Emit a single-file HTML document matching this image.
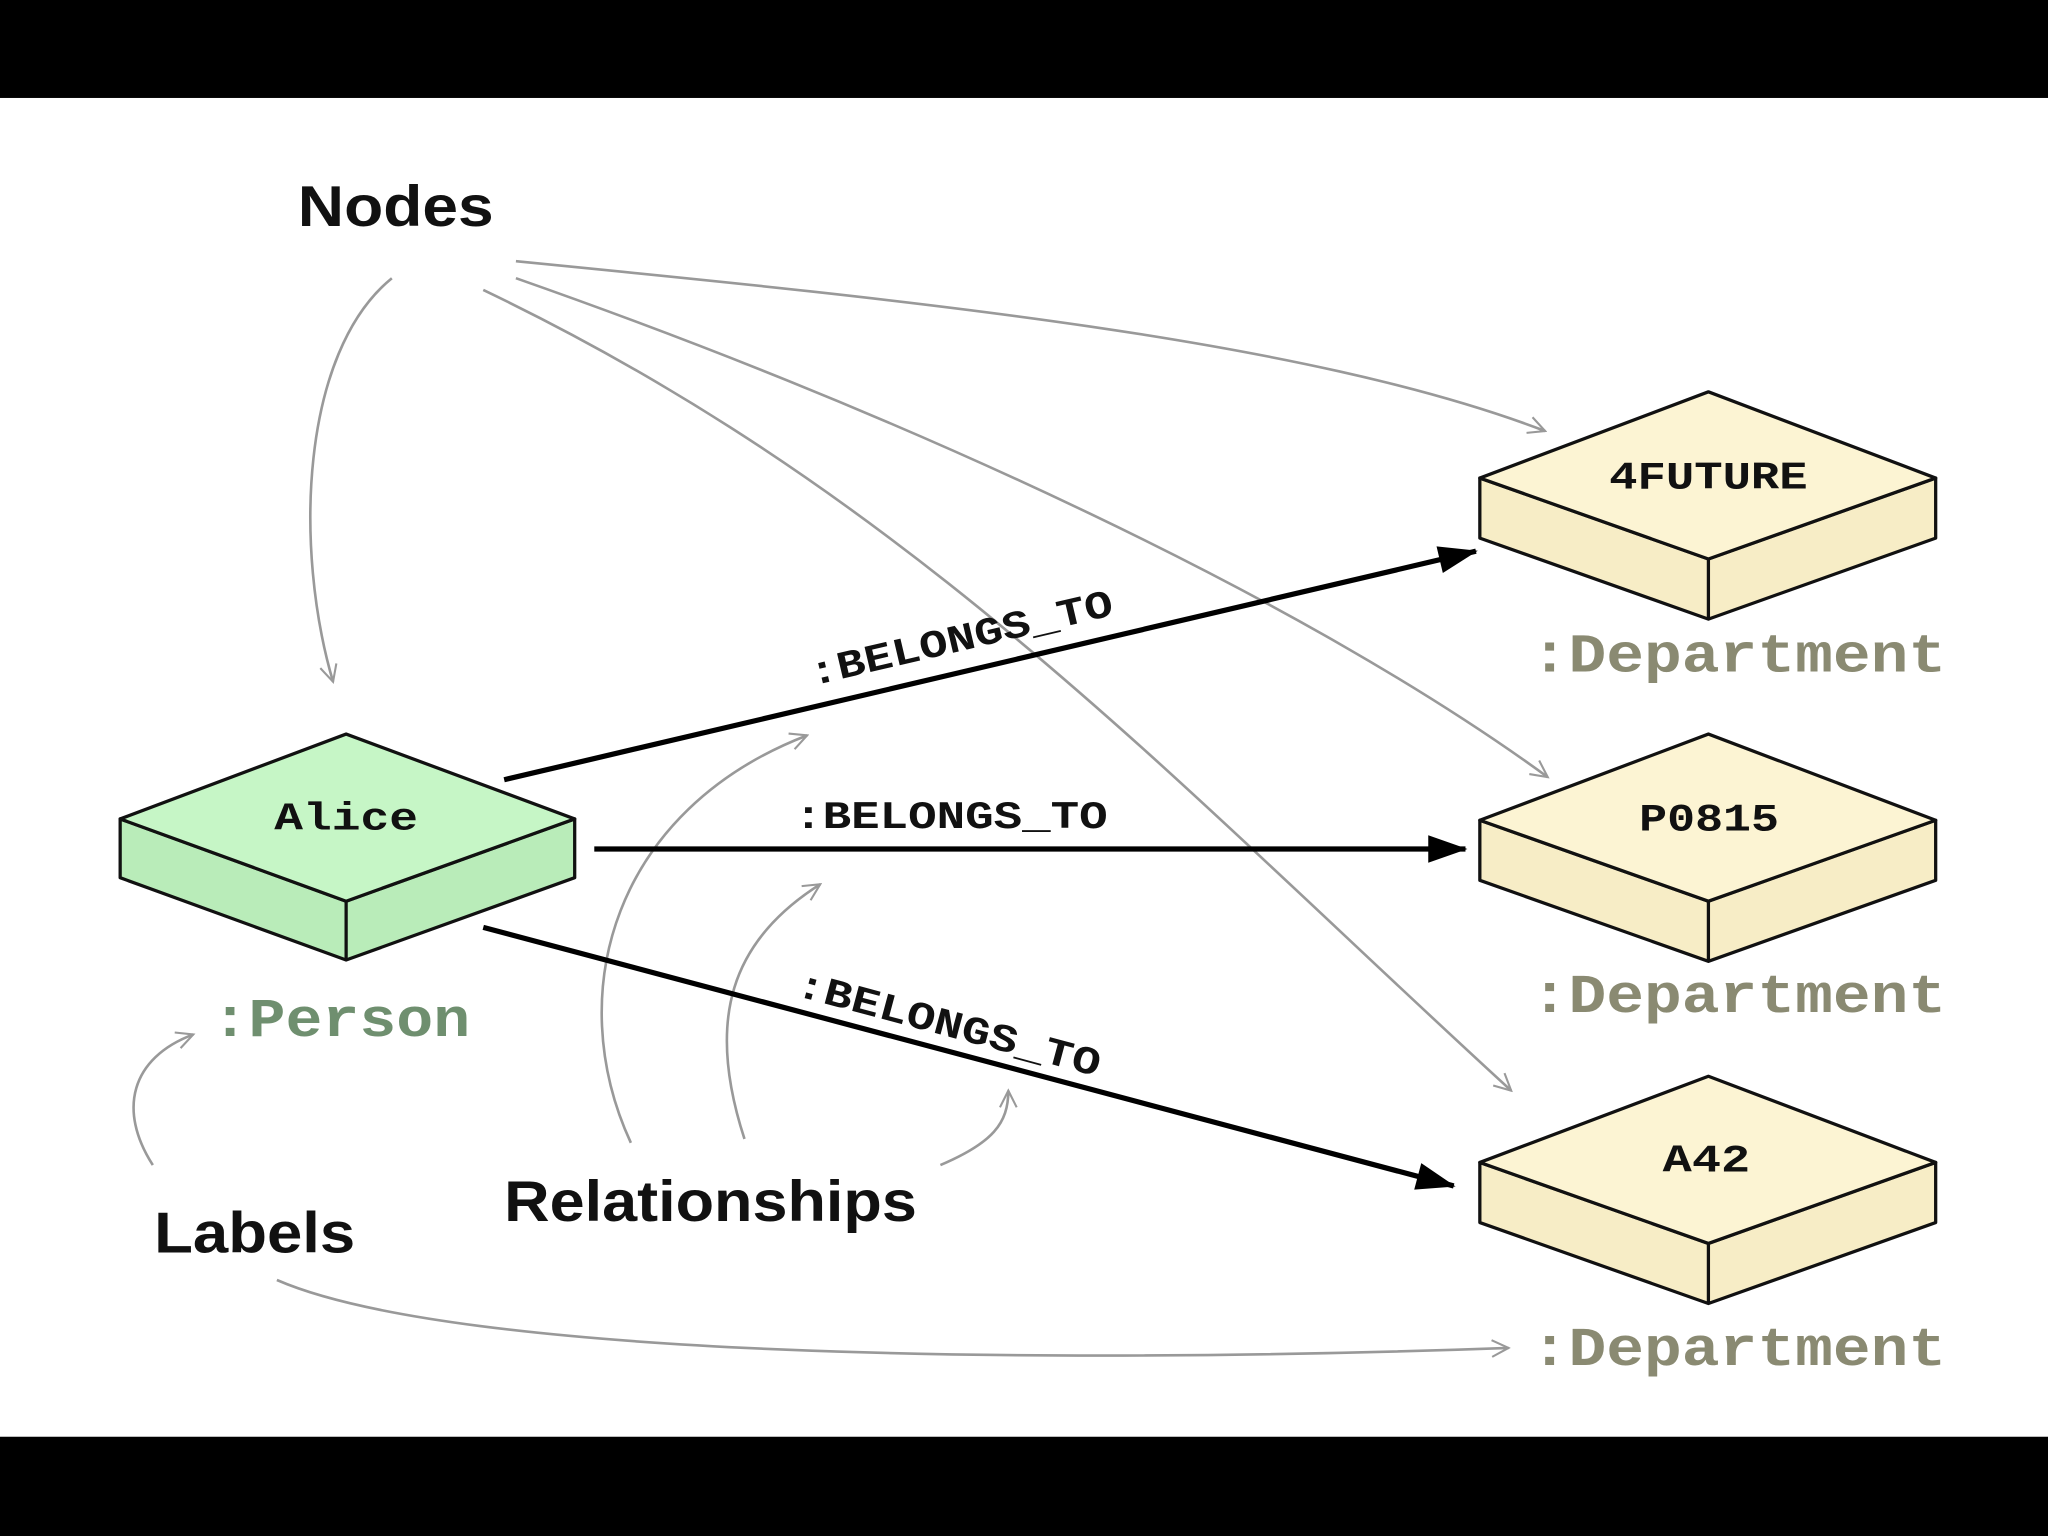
<!DOCTYPE html>
<html><head><meta charset="utf-8"><style>html,body{margin:0;padding:0;background:#000}svg{display:block}</style></head>
<body>
<svg width="2048" height="1536" viewBox="0 0 1568 1176" xmlns="http://www.w3.org/2000/svg">
<defs>
<marker id="g" viewBox="0 0 20 20" refX="18" refY="10" markerWidth="16" markerHeight="16" markerUnits="userSpaceOnUse" orient="auto"><path d="M2,2 L18,10 L2,18" fill="none" stroke="#999" stroke-width="2"/></marker>
<marker id="b" viewBox="0 0 20 20" refX="19" refY="10" markerWidth="40" markerHeight="30" markerUnits="userSpaceOnUse" orient="auto"><path d="M0,3 L20,10 L0,17 Z" fill="#000"/></marker>
</defs>
<rect width="1568" height="1176" fill="#000"/>
<rect x="0" y="75" width="1568" height="1025" fill="#fff"/>
<g font-family="Liberation Sans, sans-serif" font-weight="bold" fill="#111" lengthAdjust="spacingAndGlyphs">
<text x="228" y="173" font-size="44" textLength="150" lengthAdjust="spacingAndGlyphs">Nodes</text>
<text x="118" y="959" font-size="44" textLength="154" lengthAdjust="spacingAndGlyphs">Labels</text>
<text x="386" y="935" font-size="44" textLength="316" lengthAdjust="spacingAndGlyphs">Relationships</text>
</g>
<g fill="none" stroke="#999" stroke-width="2">
<path d="M300,213 C230,270 225,420 255,522" marker-end="url(#g)"/>
<path d="M395,200 C700,230 1000,260 1183,330" marker-end="url(#g)"/>
<path d="M395,213 C700,320 1000,460 1185,595" marker-end="url(#g)"/>
<path d="M370,222 C700,380 900,600 1157,835" marker-end="url(#g)"/>
<path d="M483,875 C430,760 470,620 618,563" marker-end="url(#g)"/>
<path d="M570,872 C540,780 560,720 628,677" marker-end="url(#g)"/>
<path d="M720,892 C760,875 772,860 772,835" marker-end="url(#g)"/>
<path d="M117,892 C90,850 100,810 148,792" marker-end="url(#g)"/>
<path d="M212,980 C350,1040 800,1045 1155,1032" marker-end="url(#g)"/>
</g>
<g stroke="#000" stroke-width="4" fill="none">
<path d="M386,597 L1130,422" marker-end="url(#b)"/>
<path d="M455,650 L1122,650" marker-end="url(#b)"/>
<path d="M370,710 L1113,908" marker-end="url(#b)"/>
</g>
<g font-family="Liberation Mono, monospace" font-weight="bold" font-size="30" fill="#111">
<text x="0" y="0" transform="translate(622,525) rotate(-13.2)" textLength="238" lengthAdjust="spacingAndGlyphs">:BELONGS_TO</text>
<text x="608" y="634" textLength="240" lengthAdjust="spacingAndGlyphs">:BELONGS_TO</text>
<text x="0" y="0" transform="translate(608,762) rotate(15)" textLength="240" lengthAdjust="spacingAndGlyphs">:BELONGS_TO</text>
</g>
<g stroke="#111" stroke-width="2.5" stroke-linejoin="round">
<path d="M92,627 L265,690 L440,627 L440,672 L265,735 L92,672 Z" fill="#b9ecb9"/>
<path d="M265,562 L440,627 L265,690 L92,627 Z" fill="#c6f6c6"/>
<path d="M265,690 L265,735"/>
</g>
<g id="d1" stroke="#111" stroke-width="2.5" stroke-linejoin="round">
<path d="M1133,366 L1308,428 L1482,366 L1482,412 L1308,474 L1133,412 Z" fill="#f7edc6"/>
<path d="M1308,300 L1482,366 L1308,428 L1133,366 Z" fill="#fcf4d3"/>
<path d="M1308,428 L1308,474"/>
</g>
<use href="#d1" y="262"/>
<use href="#d1" y="524"/>
<g font-family="Liberation Mono, monospace" font-weight="bold" font-size="30" fill="#111">
<text x="210" y="635" textLength="110" lengthAdjust="spacingAndGlyphs">Alice</text>
<text x="1232" y="374" textLength="152" lengthAdjust="spacingAndGlyphs">4FUTURE</text>
<text x="1255" y="636" textLength="107" lengthAdjust="spacingAndGlyphs">P0815</text>
<text x="1273" y="897" textLength="67" lengthAdjust="spacingAndGlyphs">A42</text>
</g>
<g font-family="Liberation Mono, monospace" font-weight="bold" font-size="42">
<text x="162" y="793" fill="#6f8f6f" textLength="198" lengthAdjust="spacingAndGlyphs">:Person</text>
<text x="1172" y="514" fill="#8a8a72" textLength="318" lengthAdjust="spacingAndGlyphs">:Department</text>
<text x="1172" y="775" fill="#8a8a72" textLength="318" lengthAdjust="spacingAndGlyphs">:Department</text>
<text x="1172" y="1045" fill="#8a8a72" textLength="318" lengthAdjust="spacingAndGlyphs">:Department</text>
</g>
</svg>
</body></html>
